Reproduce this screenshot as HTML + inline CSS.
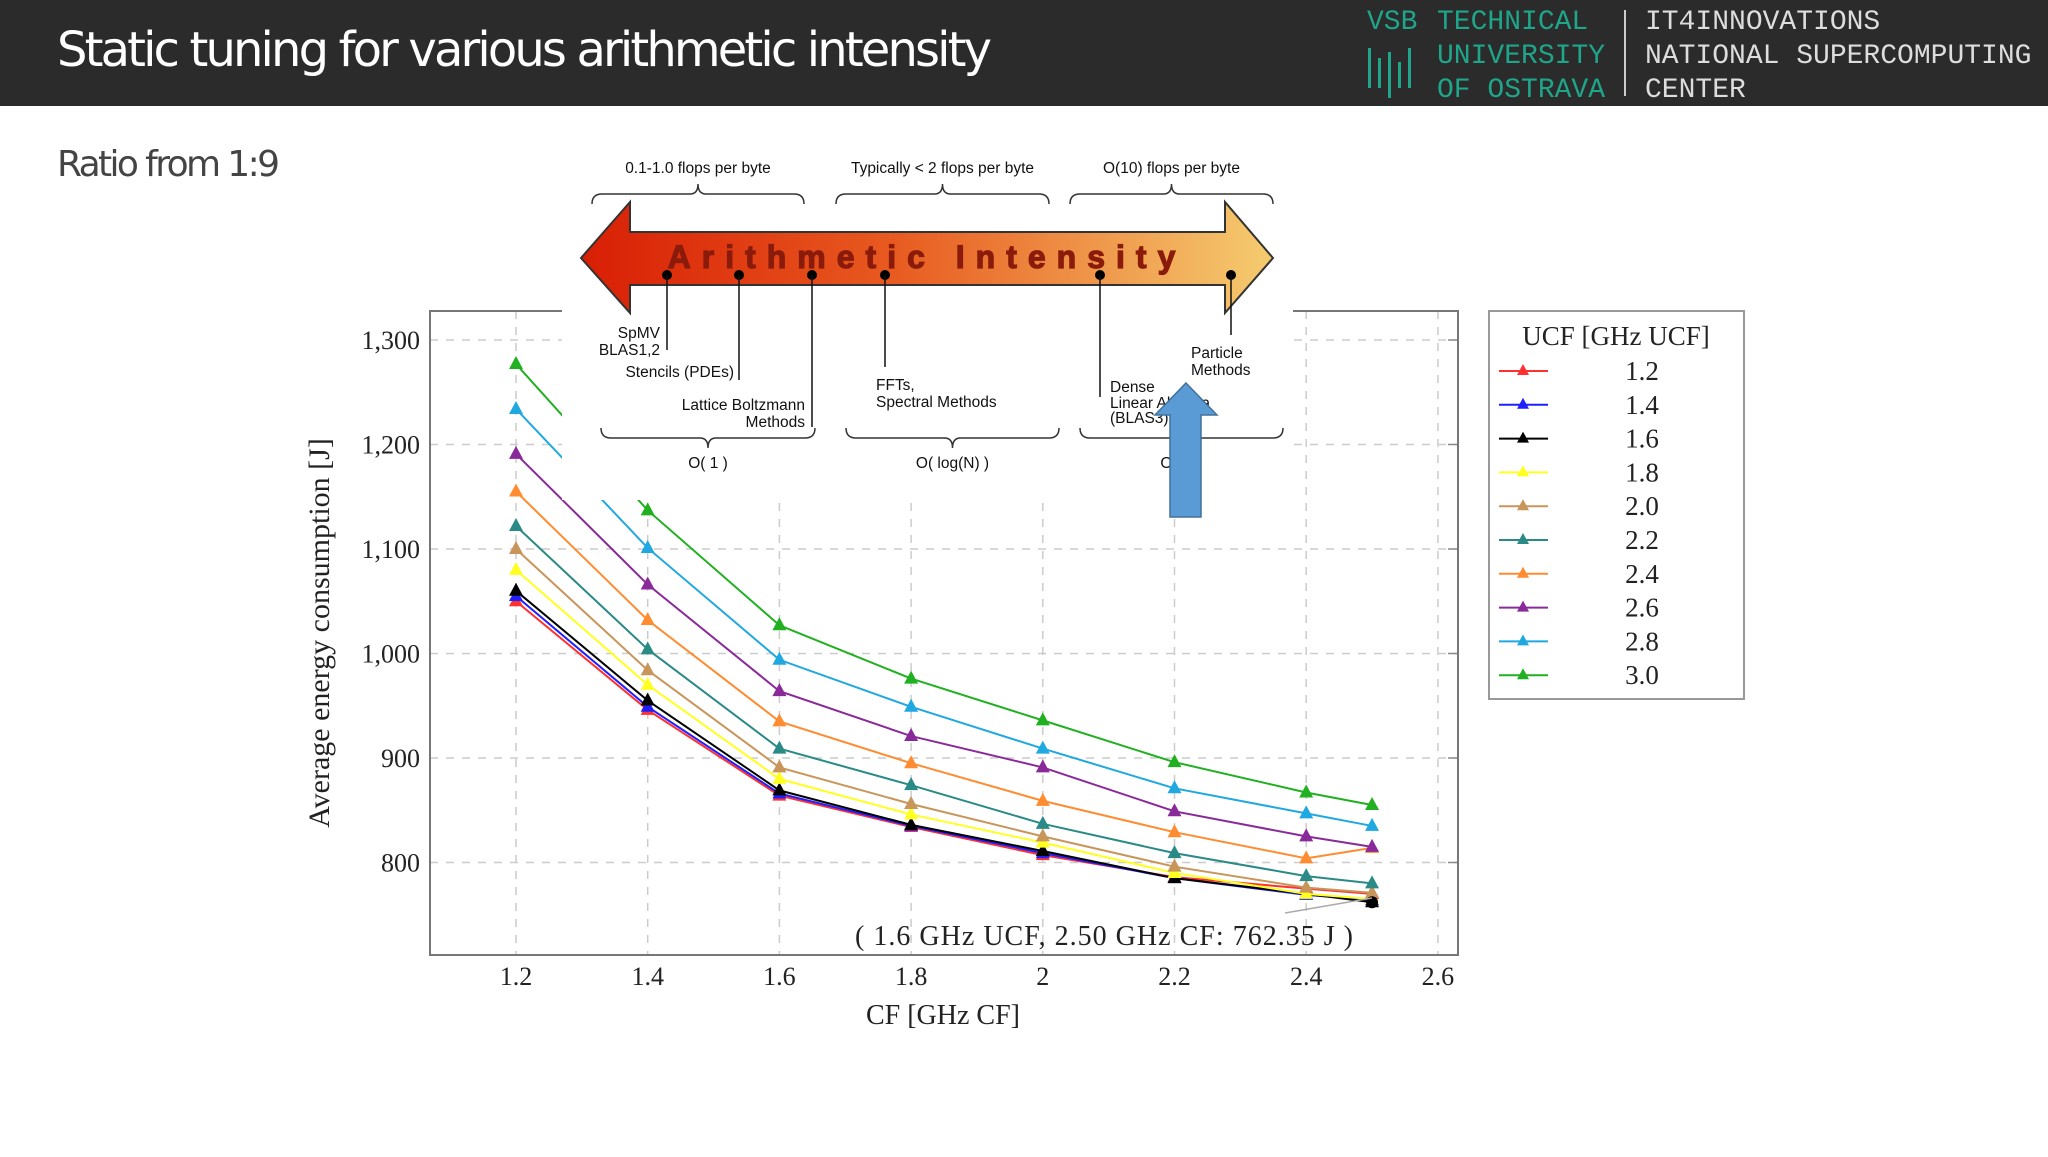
<!DOCTYPE html>
<html><head><meta charset="utf-8"><style>
body{margin:0;width:2048px;height:1152px;background:#fff;overflow:hidden;font-family:"Liberation Sans",sans-serif}
</style></head><body>
<svg width="2048" height="1152" xmlns="http://www.w3.org/2000/svg">
<rect x="0" y="0" width="2048" height="106" fill="#2b2b2b"/>
<text x="57" y="66" font-size="48" fill="#fff" font-family="DejaVu Sans,Liberation Sans,sans-serif" textLength="935">Static tuning for various arithmetic intensity</text>
<g font-family="Liberation Mono,monospace" font-size="28" fill="#1fa58a">
<text x="1367" y="29">VSB</text><text x="1437" y="29">TECHNICAL</text><text x="1437" y="63">UNIVERSITY</text><text x="1437" y="97">OF OSTRAVA</text>
<rect x="1368" y="48" width="3" height="40"/><rect x="1378" y="58" width="3" height="30"/><rect x="1388" y="52" width="3" height="46"/><rect x="1398" y="62" width="3" height="26"/><rect x="1408" y="48" width="3" height="40"/>
</g>
<rect x="1624" y="10" width="2" height="86" fill="#ccc"/>
<g font-family="Liberation Mono,monospace" font-size="28" fill="#ddd">
<text x="1645" y="29">IT4INNOVATIONS</text><text x="1645" y="63">NATIONAL SUPERCOMPUTING</text><text x="1645" y="97">CENTER</text>
</g>
<text x="57" y="176" font-size="36" fill="#444" font-family="DejaVu Sans,Liberation Sans,sans-serif" textLength="223">Ratio from 1:9</text>
<g id="chart"></g>
<g id="overlay"></g>
</svg>
<script>
const xCats=[1.2,1.4,1.6,1.8,2.0,2.2,2.4,2.5];
const seriesNames=['1.2','1.4','1.6','1.8','2.0','2.2','2.4','2.6','2.8','3.0'];
const seriesColors=['#ff3030','#2020ff','#000000','#ffff20','#c8955a','#2a8a86','#ff8c30','#8a2a9a','#20a8e0','#20b020'];
const s12=[1050,946,864,834,807,786,775,770];
const s14=[1055,949,866,835,809,785,769,764];
const s16=[1060,955,869,836,811,785,770,762];
const s18=[1080,970,880,846,819,790,770,765];
const s20=[1100,984,891,856,825,796,776,771];
const s22=[1122,1004,909,874,837,809,787,780];
const s24=[1155,1032,935,895,859,829,804,814];
const s26=[1191,1066,964,921,891,849,825,815];
const s28=[1234,1101,994,949,909,871,847,835];
const s30=[1277,1137,1027,976,936,896,867,855];
const seriesData=[s12,s14,s16,s18,s20,s22,s24,s26,s28,s30];
const xTicks=[1.2,1.4,1.6,1.8,2.0,2.2,2.4,2.6];
const xTickLabels=['1.2','1.4','1.6','1.8','2','2.2','2.4','2.6'];
const yTicks=[800,900,1000,1100,1200,1300];
const yTickLabels=['800','900','1,000','1,100','1,200','1,300'];
const NS='http://www.w3.org/2000/svg';
const X=v=>516+(v-1.2)/0.2*131.7;
const Y=v=>340+(1300-v)*1.045;
function mk(p,t,a,txt){const e=document.createElementNS(NS,t);for(const k in a)e.setAttribute(k,a[k]);if(txt!==undefined)e.textContent=txt;p.appendChild(e);return e;}
const ch=document.getElementById('chart');
const L=430,R=1458,T=311,B=955;
xTicks.forEach((v,i)=>{const g=mk(ch,'line',{x1:X(v),x2:X(v),y1:T,y2:B,stroke:'#ccc','stroke-width':1.5,'stroke-dasharray':'8 8'});

const t=mk(ch,'text',{x:X(v),y:985,'text-anchor':'middle','font-size':26,'font-family':'Liberation Serif,serif',fill:'#222'},xTickLabels[i]);
});
yTicks.forEach((v,i)=>{const g=mk(ch,'line',{x1:L,x2:R,y1:Y(v),y2:Y(v),stroke:'#ccc','stroke-width':1.5,'stroke-dasharray':'8 8'});

mk(ch,'line',{x1:R-10,x2:R,y1:Y(v),y2:Y(v),stroke:'#888','stroke-width':1.5});
const t=mk(ch,'text',{x:420,y:Y(v)+9,'text-anchor':'end','font-size':26,'font-family':'Liberation Serif,serif',fill:'#222'},yTickLabels[i]);
});
const fr=mk(ch,'rect',{x:L,y:T,width:R-L,height:B-T,fill:'none',stroke:'#777','stroke-width':2});

seriesData.forEach((d,si)=>{const c=seriesColors[si];
const pl=mk(ch,'polyline',{points:d.map((v,i)=>X(xCats[i])+','+Y(v)).join(' '),fill:'none',stroke:c,'stroke-width':2});

d.forEach((v,i)=>{const x=X(xCats[i]),y=Y(v);const m=mk(ch,'polygon',{points:`${x},${y-8} ${x-7},${y+5} ${x+7},${y+5}`,fill:c});
});});
const mp=mk(ch,'circle',{cx:X(2.5),cy:Y(s16[7]),r:6,fill:'#000'});

mk(ch,'line',{x1:1285,y1:913,x2:1372,y2:898,stroke:'#aaa','stroke-width':1.5});
const an=mk(ch,'text',{x:855,y:945,'font-size':28,'font-family':'Liberation Serif,serif',fill:'#222',textLength:498},'( 1.6 GHz UCF, 2.50 GHz CF: 762.35 J )');

const xt=mk(ch,'text',{x:943,y:1024,'text-anchor':'middle','font-size':28,'font-family':'Liberation Serif,serif',fill:'#222'},'CF [GHz CF]');

const yt=mk(ch,'text',{x:0,y:0,transform:'translate(329,633) rotate(-90)','text-anchor':'middle','font-size':30,'font-family':'Liberation Serif,serif',fill:'#222'},'Average energy consumption [J]');

const lg=mk(ch,'g',{});
mk(lg,'rect',{x:1489,y:311,width:255,height:388,fill:'#fff',stroke:'#999','stroke-width':2});
mk(lg,'text',{x:1616,y:345,'text-anchor':'middle','font-size':27,'font-family':'Liberation Serif,serif',fill:'#222'},'UCF [GHz UCF]');
seriesNames.forEach((n,i)=>{const y=371+i*33.8;const g=mk(lg,'g',{});

mk(g,'line',{x1:1499,x2:1548,y1:y,y2:y,stroke:seriesColors[i],'stroke-width':2});
mk(g,'polygon',{points:`1523,${y-7} 1517,${y+4} 1529,${y+4}`,fill:seriesColors[i]});
mk(g,'text',{x:1642,y:y+9,'text-anchor':'middle','font-size':27,'font-family':'Liberation Serif,serif',fill:'#222'},n);});
const ov=document.getElementById('overlay');
mk(ov,'rect',{x:562,y:140,width:731,height:360,fill:'#fff'});
const defs=mk(ov,'defs',{});const lgd=mk(defs,'linearGradient',{id:'ag',x1:0,x2:1,y1:0,y2:0});
mk(lgd,'stop',{offset:'0','stop-color':'#d81e05'});mk(lgd,'stop',{offset:'0.45','stop-color':'#e85a20'});mk(lgd,'stop',{offset:'1','stop-color':'#f5cc70'});
const ar=mk(ov,'polygon',{points:'581,258 630,202 630,232 1225,232 1225,202 1273,258 1225,313 1225,285 630,285 630,313',fill:'url(#ag)',stroke:'#333','stroke-width':2});

mk(ov,'text',{x:927,y:268,'text-anchor':'middle','font-size':32,'font-weight':'bold','letter-spacing':'11',fill:'#8a1a0a',stroke:'#8a1a0a','stroke-width':1.2},'Arithmetic Intensity');
function brace(x1,x2,y,dir){const m=(x1+x2)/2,h=dir*10;return `M${x1},${y+h} Q${x1},${y} ${x1+10},${y} L${m-8},${y} Q${m},${y} ${m},${y-h} Q${m},${y} ${m+8},${y} L${x2-10},${y} Q${x2},${y} ${x2},${y+h}`;}
[[592,804,'0.1-1.0 flops per byte'],[836,1049,'Typically < 2 flops per byte'],[1070,1273,'O(10) flops per byte']].forEach(b=>{
mk(ov,'path',{d:brace(b[0],b[1],194,1),fill:'none',stroke:'#333','stroke-width':1.5});
mk(ov,'text',{x:(b[0]+b[1])/2,y:173,'text-anchor':'middle','font-size':15.5,fill:'#111'},b[2]);});
[[601,815,'O( 1 )'],[846,1059,'O( log(N) )'],[1080,1283,'O( N )']].forEach(b=>{
mk(ov,'path',{d:brace(b[0],b[1],438,-1),fill:'none',stroke:'#333','stroke-width':1.5});
mk(ov,'text',{x:(b[0]+b[1])/2,y:468,'text-anchor':'middle','font-size':15.5,fill:'#111'},b[2]);});
[[667,350],[739,380],[812,427],[885,367],[1100,397],[1231,335]].forEach(p=>{
mk(ov,'circle',{cx:p[0],cy:275,r:5,fill:'#000'});mk(ov,'line',{x1:p[0],x2:p[0],y1:275,y2:p[1],stroke:'#111','stroke-width':1.5});});
const lab=[[660,338,'end','SpMV'],[660,355,'end','BLAS1,2'],[734,377,'end','Stencils (PDEs)'],[805,410,'end','Lattice Boltzmann'],[805,427,'end','Methods'],
[876,390,'start','FFTs,'],[876,407,'start','Spectral Methods'],[1110,392,'start','Dense'],[1110,408,'start','Linear Algebra'],[1110,423,'start','(BLAS3)'],[1191,358,'start','Particle'],[1191,375,'start','Methods']];
lab.forEach(l=>mk(ov,'text',{x:l[0],y:l[1],'text-anchor':l[2],'font-size':15.5,fill:'#111'},l[3]));
const ba=mk(ov,'polygon',{points:'1186,383 1217,415 1201,415 1201,517 1170,517 1170,415 1155,415',fill:'#5b9bd5',stroke:'#41719c','stroke-width':1.5});

</script>
</body></html>
